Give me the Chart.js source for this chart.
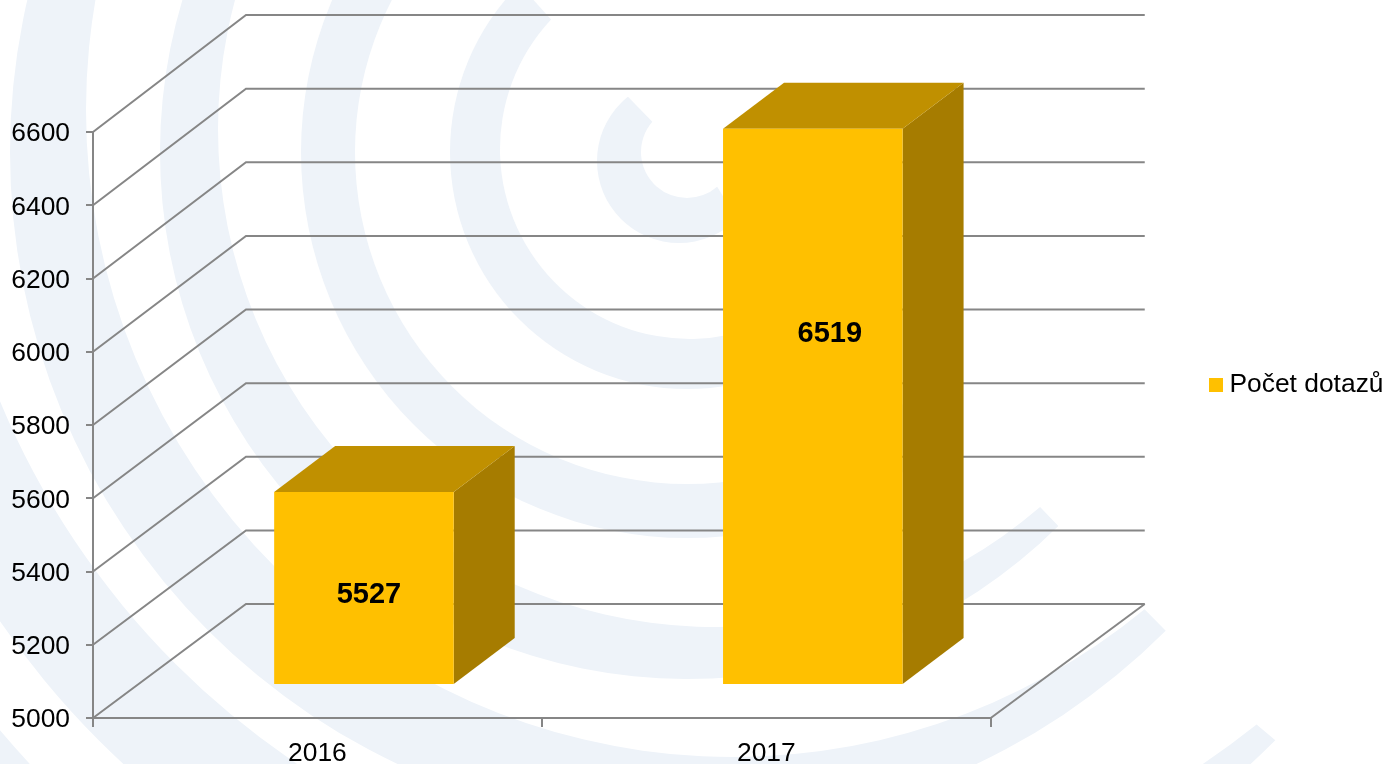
<!DOCTYPE html>
<html>
<head>
<meta charset="utf-8">
<title>Počet dotazů</title>
<script src="https://cdn.jsdelivr.net/npm/chart.js@4"></script>
<style>
    html, body { margin: 0; padding: 0; background: #fff; }
    canvas { display: block; }
</style>
</head>
<body>
<canvas id="chart" width="1387" height="764"></canvas>
<script>
const years = ['2016', '2017'];
const dotazy = [5527, 6519];
const seriesName = 'Počet dotazů';
const yMin = 5000;
const yMax = 6600;
const yStep = 200;

const FONT = '"Liberation Sans", Arial, sans-serif';
const GRID = '#868686';

// square legend marker, used as a point style so the text gap can be tightened
const marker = document.createElement('canvas');
marker.width = 14;
marker.height = 14;
marker.getContext('2d').fillStyle = '#FFC000';
marker.getContext('2d').fillRect(0, 0, 14, 14);

// background rings: outer circle, inner circle, start and end angles of each edge
const rings = [
    { o: [679, 161, 82],  i: [687, 152, 46],  lr: [45, 49],   ul: [231.5, 221] },
    { o: [687, 152, 237], i: [690, 149, 190], lr: [45, 45],   ul: [225, 223] },
    { o: [687, 152, 386], i: [687, 152, 332], lr: [45, 45],   ul: [225, 225] },
    { o: [687, 152, 527], i: [716, 129, 498], lr: [45.2, 49.4], ul: [225, 225] },
    { o: [687, 152, 677], i: [733, 110, 647], lr: [45, 50.5], ul: [225, 225] },
    { o: [687, 152, 832], i: [750, 90, 812],  lr: [45, 51.4], ul: [225, 225] },
    { o: [687, 152, 975], i: [687, 152, 898], lr: [45, 45],   ul: [225, 225] }
];

const rad = d => d * Math.PI / 180;

const watermark = {
    id: 'watermark',
    beforeDraw(chart) {
        const ctx = chart.ctx;
        ctx.save();
        ctx.fillStyle = '#fff';
        ctx.fillRect(0, 0, chart.width, chart.height);
        ctx.fillStyle = '#EEF3F9';
        rings.forEach(r => {
            ctx.beginPath();
            ctx.arc(r.o[0], r.o[1], r.o[2], rad(r.lr[0]), rad(r.ul[0]));
            ctx.arc(r.i[0], r.i[1], r.i[2], rad(r.ul[1]), rad(r.lr[1]), true);
            ctx.closePath();
            ctx.fill();
        });
        ctx.restore();
    }
};

// the 3D box: walls and floor behind the bars, side and top faces on the bars
const box3d = {
    id: 'box3d',
    beforeDatasetsDraw(chart) {
        const ctx = chart.ctx;
        const { left, right, bottom } = chart.chartArea;
        const yScale = chart.scales.y;
        const backX = left + 153;
        const backRight = right + 154;
        const backY = y => y - 114 - (bottom - y) * 3 / 586;

        ctx.save();
        ctx.strokeStyle = GRID;
        ctx.lineWidth = 2;
        yScale.ticks.forEach(t => {
            const y = yScale.getPixelForValue(t.value);
            ctx.beginPath();
            ctx.moveTo(left, y);
            ctx.lineTo(backX, backY(y));
            ctx.lineTo(backRight, backY(y));
            ctx.stroke();
        });
        ctx.beginPath();
        ctx.moveTo(right, bottom);
        ctx.lineTo(backRight, backY(bottom));
        ctx.stroke();
        ctx.restore();
    },
    beforeDatasetDraw(chart, args) {
        const ctx = chart.ctx;
        const depthX = 61, depthY = 46;
        ctx.save();
        // bars stand part way into the floor
        ctx.translate(46.5, -33);
        args.meta.data.forEach(bar => {
            const l = bar.x - bar.width / 2, r = bar.x + bar.width / 2;
            ctx.fillStyle = '#A67C00';
            ctx.beginPath();
            ctx.moveTo(r, bar.y);
            ctx.lineTo(r + depthX, bar.y - depthY);
            ctx.lineTo(r + depthX, bar.base - depthY);
            ctx.lineTo(r, bar.base);
            ctx.closePath();
            ctx.fill();
            ctx.fillStyle = '#C09000';
            ctx.beginPath();
            ctx.moveTo(l, bar.y);
            ctx.lineTo(l + depthX, bar.y - depthY);
            ctx.lineTo(r + depthX, bar.y - depthY);
            ctx.lineTo(r, bar.y);
            ctx.closePath();
            ctx.fill();
        });
    },
    afterDatasetDraw(chart, args) {
        const ctx = chart.ctx;
        // labels were moved by hand in the original
        const shifts = [[5, 7], [17, -72]];
        ctx.font = 'bold 29px ' + FONT;
        ctx.fillStyle = '#000';
        ctx.textAlign = 'center';
        ctx.textBaseline = 'middle';
        args.meta.data.forEach((bar, i) => {
            ctx.fillText(dotazy[i], bar.x + shifts[i][0], (bar.y + bar.base) / 2 + shifts[i][1]);
        });
        ctx.restore();
    }
};

const hiddenScale = {
    display: true,
    grid: { display: false },
    border: { display: false },
    ticks: { display: false }
};

new Chart(document.getElementById('chart'), {
    type: 'bar',
    data: {
        labels: years,
        datasets: [{
            label: seriesName,
            data: dotazy,
            base: yMin,
            xAxisID: 'x',
            yAxisID: 'y',
            backgroundColor: '#FFC000',
            barPercentage: 0.4,
            categoryPercentage: 1,
            clip: false
        }]
    },
    options: {
        responsive: false,
        animation: false,
        layout: { padding: { top: 6, right: -6.5 } },
        plugins: {
            tooltip: { enabled: false },
            legend: {
                position: 'right',
                labels: {
                    usePointStyle: true,
                    pointStyle: marker,
                    pointStyleWidth: 1,
                    boxHeight: 14,
                    padding: 7,
                    color: '#000',
                    font: { family: FONT, size: 26.4 }
                }
            }
        },
        scales: {
            x: {
                grid: { drawOnChartArea: false, color: GRID, lineWidth: 2, tickLength: 9 },
                border: { color: GRID, width: 2 },
                ticks: { color: '#000', font: { family: FONT, size: 26.4 }, padding: 11, maxRotation: 0 },
                afterFit: s => { s.height = 46; }
            },
            y: {
                min: yMin,
                max: yMax,
                grid: { drawOnChartArea: false, color: GRID, lineWidth: 2, tickLength: 7 },
                border: { color: GRID, width: 2 },
                ticks: {
                    stepSize: yStep,
                    callback: v => String(v),
                    color: '#000',
                    font: { family: FONT, size: 26.4 },
                    padding: 16,
                    labelOffset: 2
                },
                afterFit: s => { s.width = 93; }
            },
            // empty axes that hold the plot at its place next to the legend
            padRight: { ...hiddenScale, type: 'linear', axis: 'y', position: 'right', afterFit: s => { s.width = 217.5; } },
            padTop: { ...hiddenScale, type: 'linear', axis: 'x', position: 'top', afterFit: s => { s.height = 126; } }
        }
    },
    plugins: [watermark, box3d]
});
</script>
</body>
</html>
